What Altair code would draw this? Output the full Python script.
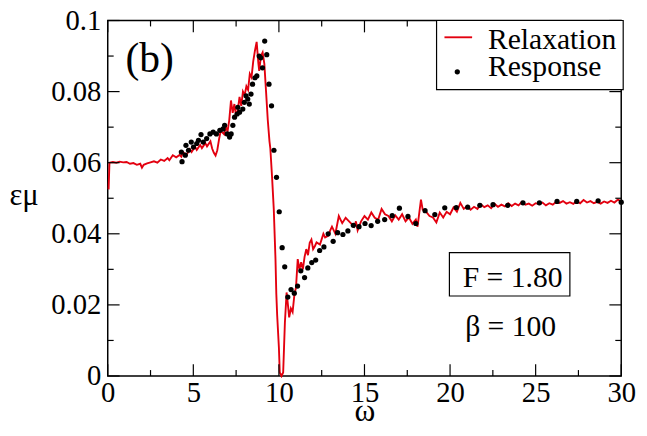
import altair as alt
import pandas as pd

# ---------------- data ----------------
relax_w = [0.05, 0.1, 0.3, 0.5, 0.7, 0.9, 1.1, 1.3, 1.5, 1.7,
           1.9, 2.0, 2.1, 2.3, 2.5, 2.7, 2.9, 3.1, 3.3, 3.5,
           3.6, 3.8, 4.0, 4.2, 4.3, 4.4, 4.6, 4.8, 4.9, 5.1,
           5.2, 5.4, 5.5, 5.7, 5.8, 6.0, 6.1, 6.2, 6.3, 6.4,
           6.5, 6.6, 6.8, 6.9, 7.0, 7.1, 7.2, 7.3, 7.4, 7.5,
           7.6, 7.7, 7.8, 7.9, 8.0, 8.1, 8.2, 8.3, 8.4, 8.5,
           8.6, 8.7, 8.8, 8.85, 8.95, 9.05, 9.15, 9.25, 9.3, 9.35,
           9.45, 9.5, 9.6, 9.7, 9.8, 9.85, 9.9, 10.0, 10.05, 10.15,
           10.25, 10.3, 10.35, 10.45, 10.55, 10.6, 10.7, 10.8, 10.9, 11.0,
           11.1, 11.2, 11.3, 11.4, 11.5, 11.6, 11.7, 11.8, 11.9, 12.0,
           12.1, 12.2, 12.4, 12.5, 12.6, 12.7, 12.9, 13.0, 13.1, 13.3,
           13.5, 13.6, 13.7, 13.9, 14.0, 14.2, 14.4, 14.5, 14.6, 14.8,
           15.0, 15.2, 15.4, 15.6, 15.8, 16.0, 16.2, 16.4, 16.6, 16.8,
           17.0, 17.2, 17.4, 17.6, 17.8, 18.0, 18.1, 18.3, 18.4, 18.6,
           18.8, 19.0, 19.2, 19.4, 19.6, 19.8, 20.0, 20.2, 20.4, 20.6,
           20.8, 21.0, 21.2, 21.4, 21.6, 21.8, 22.0, 22.2, 22.4, 22.6,
           22.8, 23.0, 23.2, 23.4, 23.6, 23.8, 24.0, 24.2, 24.4, 24.6,
           24.8, 25.0, 25.2, 25.4, 25.6, 25.8, 26.0, 26.2, 26.4, 26.6,
           26.8, 27.0, 27.2, 27.4, 27.6, 27.8, 28.0, 28.2, 28.4, 28.6,
           28.8, 29.0, 29.2, 29.4, 29.6, 29.8, 30.0]
relax_em = [0.0525, 0.0600, 0.0602, 0.0600, 0.0603, 0.0601, 0.0602, 0.0597, 0.0599, 0.0594,
            0.0597, 0.0586, 0.0594, 0.0598, 0.0601, 0.0604, 0.0600, 0.0609, 0.0605, 0.0613,
            0.0607, 0.0621, 0.0615, 0.0622, 0.0617, 0.0630, 0.0622, 0.0638, 0.0630, 0.0645,
            0.0636, 0.0650, 0.0641, 0.0655, 0.0646, 0.0660, 0.0640, 0.0628, 0.0620, 0.0635,
            0.0665, 0.0690, 0.0680, 0.0700, 0.0688, 0.0720, 0.0775, 0.0740, 0.0765, 0.0730,
            0.0748, 0.0785, 0.0760, 0.0800, 0.0790, 0.0815, 0.0805, 0.0850, 0.0840, 0.0885,
            0.0915, 0.0940, 0.0880, 0.0858, 0.0900, 0.0910, 0.0878, 0.0800, 0.0760, 0.0720,
            0.0660, 0.0640, 0.0560, 0.0470, 0.0330, 0.0230, 0.0170, 0.0080, 0.0010, 0.0000,
            0.0010, 0.0080, 0.0150, 0.0235, 0.0190, 0.0165, 0.0190, 0.0180, 0.0226, 0.0250,
            0.0329, 0.0300, 0.0320, 0.0300, 0.0335, 0.0357, 0.0340, 0.0375, 0.0384, 0.0357,
            0.0365, 0.0376, 0.0370, 0.0385, 0.0400, 0.0390, 0.0395, 0.0410, 0.0420, 0.0400,
            0.0450, 0.0440, 0.0430, 0.0445, 0.0440, 0.0430, 0.0420, 0.0435, 0.0410, 0.0435,
            0.0450, 0.0440, 0.0460, 0.0445, 0.0440, 0.0470, 0.0455, 0.0450, 0.0435, 0.0452,
            0.0440, 0.0455, 0.0435, 0.0446, 0.0428, 0.0440, 0.0420, 0.0496, 0.0468, 0.0462,
            0.0450, 0.0446, 0.0432, 0.0460, 0.0446, 0.0462, 0.0455, 0.0474, 0.0462, 0.0487,
            0.0470, 0.0478, 0.0468, 0.0476, 0.0470, 0.0483, 0.0475, 0.0480, 0.0472, 0.0484,
            0.0476, 0.0482, 0.0477, 0.0486, 0.0478, 0.0485, 0.0480, 0.0490, 0.0482, 0.0485,
            0.0479, 0.0486, 0.0483, 0.0488, 0.0480, 0.0486, 0.0482, 0.0490, 0.0487, 0.0492,
            0.0485, 0.0489, 0.0484, 0.0492, 0.0486, 0.0495, 0.0488, 0.0492, 0.0486, 0.0490,
            0.0485, 0.0491, 0.0487, 0.0493, 0.0488, 0.0496, 0.0491]

resp_w = [4.34, 4.30, 4.53, 4.57, 4.72, 4.88, 5.01, 5.20, 5.30, 5.45,
          5.58, 5.78, 5.97, 6.16, 6.35, 6.55, 6.74, 6.83, 6.98, 7.12,
          7.21, 7.31, 7.41, 7.56, 7.60, 7.70, 7.89, 7.98, 8.08, 8.18,
          8.27, 8.37, 8.46, 8.60, 8.71, 8.85, 8.94, 9.04, 9.17, 9.29,
          9.42, 9.57, 9.71, 9.86, 10.02, 10.19, 10.34, 10.52, 10.71, 10.90,
          11.09, 11.28, 11.50, 11.69, 11.92, 12.15, 12.38, 12.63, 12.88, 13.17,
          13.43, 13.74, 14.03, 14.35, 14.68, 15.03, 15.39, 15.77, 16.18, 16.62,
          17.04, 17.54, 18.00, 18.54, 19.11, 19.69, 20.36, 21.03, 21.74, 22.51,
          23.37, 24.26, 25.22, 26.25, 27.40, 28.65, 30.0]
resp_em = [0.0603, 0.0630, 0.0621, 0.0649, 0.0635, 0.0658, 0.0644, 0.0654, 0.0663, 0.0679,
           0.0658, 0.0668, 0.0681, 0.0686, 0.0681, 0.0691, 0.0695, 0.0705, 0.0681, 0.0672,
           0.0681, 0.0705, 0.0728, 0.0737, 0.0756, 0.0742, 0.0751, 0.0770, 0.0788, 0.0779,
           0.0765, 0.0793, 0.0821, 0.0839, 0.0844, 0.0900, 0.0895, 0.0867, 0.0942, 0.0904,
           0.0821, 0.0760, 0.0635, 0.0559, 0.0462, 0.0361, 0.0307, 0.0222, 0.0243, 0.0233,
           0.0253, 0.0296, 0.0277, 0.0304, 0.0319, 0.0326, 0.0353, 0.0363, 0.0400, 0.0379,
           0.0403, 0.0398, 0.0408, 0.0424, 0.0420, 0.0429, 0.0423, 0.0435, 0.0440, 0.0451,
           0.0472, 0.0449, 0.0429, 0.0465, 0.0454, 0.0473, 0.0474, 0.0475, 0.0480, 0.0482,
           0.0480, 0.0487, 0.0487, 0.0491, 0.0491, 0.0493, 0.0489]

x_major = [0, 5, 10, 15, 20, 25, 30]
x_minor = [2.5, 7.5, 12.5, 17.5, 22.5, 27.5]
y_major = [0, 0.02, 0.04, 0.06, 0.08, 0.1]
y_minor = [0.01, 0.03, 0.05, 0.07, 0.09]

legend_labels = ["Relaxation", "Response"]
panel_label = "(b)"
param_labels = ["F = 1.80", "β = 100"]
x_title = "ω"
y_title = "εμ"

# ---------------- styling ----------------
W, H = 520, 360
FONT = "Liberation Serif"
RED = "#e3000f"
MAJ, MIN = 12, 6
DOT = 28

xs = alt.Scale(domain=[0, 30], nice=False)
ys = alt.Scale(domain=[0, 0.1], nice=False)

xaxis = alt.Axis(values=x_major, format="d", ticks=False, domain=False, grid=False,
                 labelFlush=False, labelOverlap=False,
                 labelFont=FONT, labelFontSize=29, labelColor="black", labelPadding=3,
                 title=x_title, titleFont=FONT, titleFontSize=32, titleFontWeight="normal",
                 titleColor="black", titleBaseline="alphabetic", titleY=45)
yaxis = alt.Axis(values=y_major, format="~g", ticks=False, domain=False, grid=False,
                 labelFlush=False, labelOverlap=False,
                 labelFont=FONT, labelFontSize=29, labelColor="black", labelPadding=7,
                 title=y_title, titleFont=FONT, titleFontSize=31, titleFontWeight="normal",
                 titleColor="black", titleAngle=0, titleX=-100, titleY=186,
                 titleAlign="left", titleBaseline="alphabetic")

X = lambda f: alt.X(f, scale=xs, axis=xaxis)
Y = lambda f: alt.Y(f, scale=ys, axis=yaxis)

relax = pd.DataFrame({"w": relax_w, "em": relax_em})
resp = pd.DataFrame({"w": resp_w, "em": resp_em})

line = alt.Chart(relax).mark_line(color=RED, strokeWidth=1.9).encode(x=X("w:Q"), y=Y("em:Q"))
pts = alt.Chart(resp).mark_circle(color="black", size=DOT, opacity=1).encode(x=X("w:Q"), y=Y("em:Q"))

def xticks(vals, L, top):
    ch = alt.Chart(pd.DataFrame({"w": vals})).mark_rule(color="black", strokeWidth=1.2)
    if top:
        return ch.encode(x=X("w:Q"), y=alt.value(0), y2=alt.value(L))
    return ch.encode(x=X("w:Q"), y=alt.value(H), y2=alt.value(H - L))

def yticks(vals, L, right):
    ch = alt.Chart(pd.DataFrame({"em": vals})).mark_rule(color="black", strokeWidth=1.2)
    if right:
        return ch.encode(y=Y("em:Q"), x=alt.value(W), x2=alt.value(W - L))
    return ch.encode(y=Y("em:Q"), x=alt.value(0), x2=alt.value(L))

ticks = [xticks(x_major, MAJ, False), xticks(x_minor, MIN, False),
         xticks(x_major, MAJ, True), xticks(x_minor, MIN, True),
         yticks(y_major, MAJ, False), yticks(y_minor, MIN, False),
         yticks(y_major, MAJ, True), yticks(y_minor, MIN, True)]

one = lambda: pd.DataFrame({"k": [0]})

def label(text, x, y, size, align="left"):
    return alt.Chart(pd.DataFrame({"t": [text]})).mark_text(
        font=FONT, fontSize=size, align=align, baseline="alphabetic", color="black").encode(
        x=alt.value(x), y=alt.value(y), text="t:N")

# legend
leg_box = alt.Chart(one()).mark_rect(fill="white", stroke="black", strokeWidth=1.2).encode(
    x=alt.value(333), x2=alt.value(522), y=alt.value(0), y2=alt.value(70))
leg_line = alt.Chart(one()).mark_rule(color=RED, strokeWidth=1.9).encode(
    x=alt.value(341), x2=alt.value(369), y=alt.value(17))
leg_dot = alt.Chart(one()).mark_circle(color="black", size=DOT, opacity=1).encode(
    x=alt.value(354), y=alt.value(52))
leg_t1 = label(legend_labels[0], 385, 29, 30)
leg_t2 = label(legend_labels[1], 385, 56, 30)

panel = label(panel_label, 18, 52, 42)

fbox = alt.Chart(one()).mark_rect(fill="white", stroke="black", strokeWidth=1.2).encode(
    x=alt.value(346), x2=alt.value(468), y=alt.value(235), y2=alt.value(279))
ftext = label(param_labels[0], 410, 270, 30, "center")
btext = label(param_labels[1], 408, 319, 30, "center")

chart = alt.layer(line, pts, *ticks, leg_box, leg_line, leg_dot, leg_t1, leg_t2, panel,
                  fbox, ftext, btext).properties(
    width=W, height=H,
    padding={"left": 101, "top": 10, "right": 18, "bottom": 50},
    autosize=alt.AutoSizeParams(type="none"),
    background="white",
).configure_view(stroke="black", strokeWidth=1.5)

chart.save("out.html", embed_options={"renderer": "svg", "actions": False})
